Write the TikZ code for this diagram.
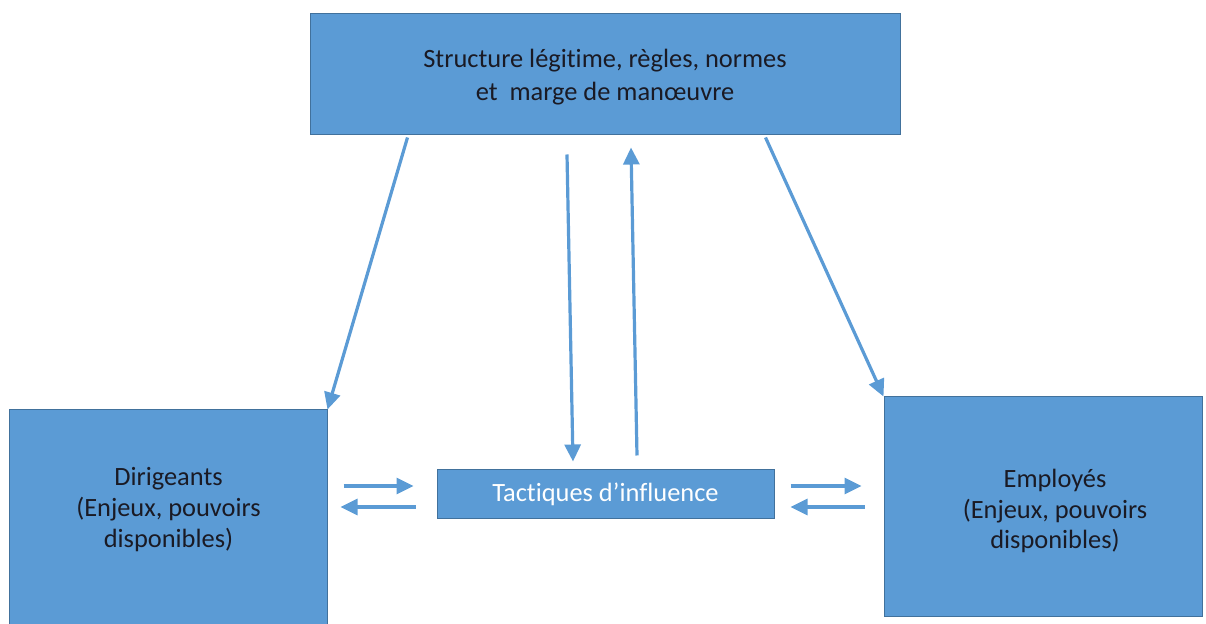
\documentclass[tikz,border=0pt]{standalone}
\usepackage{fontspec}
\setmainfont{Carlito}[Ligatures=NoCommon]
\usetikzlibrary{arrows.meta,calc}
\definecolor{boxblue}{HTML}{5B9BD5}
\definecolor{edgeblue}{HTML}{41719C}
\definecolor{inkdark}{HTML}{1A1A24}
\begin{document}
\begin{tikzpicture}[x=1bp, y=1bp,
  boxstyle/.style={draw=edgeblue, line width=1bp, fill=boxblue, inner sep=0pt},
  textstyle/.style={text=inkdark, align=center, font=\fontsize{26.5}{31}\selectfont},
  arrowstyle/.style={draw=boxblue, line width=3.2bp, -{Triangle[length=17bp,width=16bp]}}]
  \useasboundingbox (0,0) rectangle (1206,624);

  \node[boxstyle, minimum width=589bp, minimum height=121bp] (top) at (605.5,549.5) {};
  \node[textstyle, font=\fontsize{26.5}{33}\selectfont] (toptext) at (605,547) {Structure légitime, règles, normes\\et~ marge de manœuvre};

  \node[boxstyle, minimum width=317bp, minimum height=240bp] (dir) at (168.5,94) {};
  \node[textstyle] (dirtext) at ([yshift=-100bp]dir.north) {Dirigeants\\(Enjeux, pouvoirs\\disponibles)};

  \node[boxstyle, minimum width=318bp, minimum height=220bp] (emp) at (1043,117) {};
  \node[textstyle] (emptext) at (1055,113) {Employés\\(Enjeux, pouvoirs\\disponibles)};

  \node[boxstyle, minimum width=337bp, minimum height=49bp, text=white, font=\fontsize{26.5}{31}\selectfont] (tac) at (605.5,129.5) {Tactiques d’influence};

  % structure vers acteurs
  \draw[arrowstyle] ([xshift=97bp,yshift=-2bp]top.south west) -- (dir.north east);
  \draw[arrowstyle] ([xshift=455bp,yshift=-2bp]top.south west) -- (emp.north west);

  % structure et tactiques
  \draw[arrowstyle] ([xshift=-38.5bp,yshift=-19bp]top.south) -- ([xshift=-32.5bp,yshift=8bp]tac.north);
  \draw[arrowstyle] ([xshift=31.5bp,yshift=14bp]tac.north) -- ([xshift=25.5bp,yshift=-12bp]top.south);

  % echanges lateraux
  \draw[arrowstyle] ($(dir.east |- tac.west)+(16,8.5)$) -- ($(tac.west)+(-23,8.5)$);
  \draw[arrowstyle] ($(tac.west)+(-21,-12.5)$) -- ($(dir.east |- tac.west)+(13,-12.5)$);
  \draw[arrowstyle] ($(tac.east)+(16,8.5)$) -- ($(emp.west |- tac.east)+(-22,8.5)$);
  \draw[arrowstyle] ($(emp.west |- tac.east)+(-19,-12.5)$) -- ($(tac.east)+(16,-12.5)$);
\end{tikzpicture}
\end{document}
